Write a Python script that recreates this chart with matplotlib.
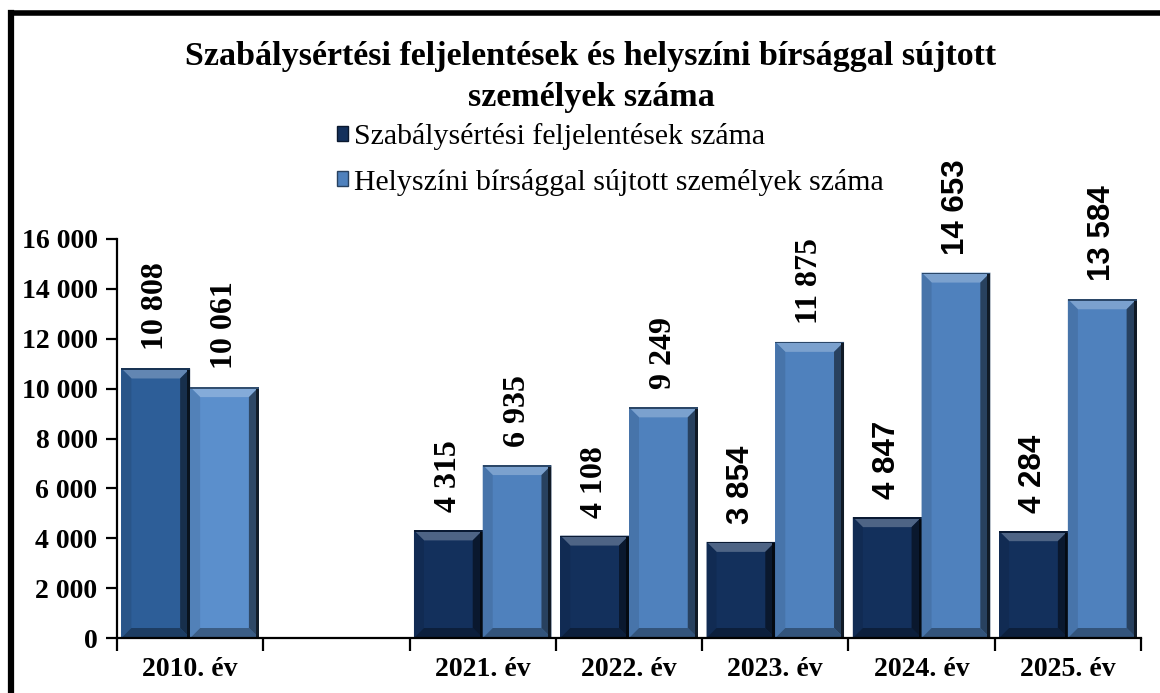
import numpy as np
import matplotlib
matplotlib.use("Agg")
import matplotlib.pyplot as plt
from matplotlib.patches import Polygon, Rectangle
from matplotlib.ticker import FuncFormatter, FixedLocator
from matplotlib.colors import to_rgb
from matplotlib.transforms import IdentityTransform
from matplotlib.lines import Line2D

# ---------------- data ----------------
categories = ["2010. év", "", "2021. év", "2022. év", "2023. év", "2024. év", "2025. év"]
feljelentes = [10808, np.nan, 4315, 4108, 3854, 4847, 4284]
birsag = [10061, np.nan, 6935, 9249, 11875, 14653, 13584]
series_names = ["Szabálysértési feljelentések száma",
                "Helyszíni bírsággal sújtott személyek száma"]
title = "Szabálysértési feljelentések és helyszíni bírsággal sújtott\nszemélyek száma"
yticks = [0, 2000, 4000, 6000, 8000, 10000, 12000, 14000, 16000]

SERIF = ["Liberation Serif", "DejaVu Serif"]
SANS = ["Liberation Sans", "DejaVu Sans"]

W, H = 1160, 693
fig = plt.figure(figsize=(W / 100, H / 100), dpi=100)
fig.patch.set_facecolor("white")
ax = fig.add_axes([117 / W, 1 - 638 / H, (1141 - 117) / W, (638 - 239) / H])

x = np.arange(len(categories))
bw = 0.47
off = 0.235

dark_main = "#13305C"
light_main = "#4F81BD"
dark_2010 = "#2D5E98"
light_2010 = "#5B8FCC"

c1 = [dark_2010] + [dark_main] * (len(categories) - 1)
c2 = [light_2010] + [light_main] * (len(categories) - 1)

v1 = np.array(feljelentes, dtype=float)
v2 = np.array(birsag, dtype=float)
bars1 = ax.bar(x - off, np.nan_to_num(v1), bw, color=c1, zorder=2)
bars2 = ax.bar(x + off, np.nan_to_num(v2), bw, color=c2, zorder=2)

ax.set_xlim(-0.5, len(categories) - 0.5)
ax.set_ylim(0, 16000)

# axis styling
for s in ["top", "right"]:
    ax.spines[s].set_visible(False)
for s in ["left", "bottom"]:
    ax.spines[s].set_linewidth(1.6)
    ax.spines[s].set_color("black")
    ax.spines[s].set_zorder(5)

ax.yaxis.set_major_locator(FixedLocator(yticks))
ax.yaxis.set_major_formatter(FuncFormatter(lambda v, p: f"{int(v):,}".replace(",", " ")))
ax.tick_params(axis="y", direction="out", length=8, width=1.6, pad=6, labelsize=20)
for lab in ax.get_yticklabels():
    lab.set_fontfamily(SERIF)
    lab.set_fontweight("bold")

ax.xaxis.set_major_locator(FixedLocator(x))
ax.set_xticklabels(categories, fontfamily=SERIF, fontweight="bold", fontsize=20)
ax.xaxis.set_minor_locator(FixedLocator(np.arange(len(categories) + 1) - 0.5))
ax.tick_params(axis="x", which="major", length=0, pad=14)
ax.tick_params(axis="x", which="minor", direction="out", length=9, width=1.6)


def mix(c, other, t):
    a = np.array(to_rgb(c))
    b = np.array(to_rgb(other))
    return tuple(a * (1 - t) + b * t)


def bevel(rect, base):
    (x0, y0), (x1, y1) = ax.transData.transform(
        [(rect.get_x(), rect.get_y()), (rect.get_x() + rect.get_width(), rect.get_y() + rect.get_height())])
    if y1 - y0 < 1:
        return
    s = 10
    b = 10
    tr = IdentityTransform()
    polys = [
        ([(x0, y1), (x1, y1), (x1 - s, y1 - b), (x0 + s, y1 - b)], mix(base, "white", 0.25)),
        ([(x0, y0), (x0, y1), (x0 + s, y1 - b), (x0 + s, y0 + b)], mix(base, "black", 0.10)),
        ([(x0, y0), (x1, y0), (x1 - s, y0 + b), (x0 + s, y0 + b)], mix(base, "black", 0.35)),
        ([(x1, y1), (x1, y0), (x1 - s, y0 + b), (x1 - s, y1 - b)], mix(base, "black", 0.5)),
    ]
    for pts, col in polys:
        ax.add_patch(Polygon(pts, closed=True, facecolor=col, edgecolor="none",
                             transform=tr, zorder=3))
    ax.add_patch(Polygon([(x1 - 3, y0), (x1, y0), (x1, y1), (x1 - 3, y1)], closed=True,
                         facecolor=mix(base, "black", 0.8), edgecolor="none", transform=tr, zorder=3))
    ax.add_patch(Polygon([(x0, y1 - 1.5), (x1, y1 - 1.5), (x1, y1), (x0, y1)], closed=True,
                         facecolor=mix(base, "black", 0.45), edgecolor="none", transform=tr, zorder=3))


for r, c in zip(bars1, c1):
    bevel(r, c)
for r, c in zip(bars2, c2):
    bevel(r, c)

# value labels
sans_labels = {3854, 4847, 14653, 4284, 13584}


def fmt(v):
    return f"{int(v):,}".replace(",", " ")


for xs, vals in [(x - off, v1), (x + off, v2)]:
    for xi, v in zip(xs, vals):
        if np.isnan(v):
            continue
        if int(v) in sans_labels:
            fam, size = SANS, 22.5
        else:
            fam, size = SERIF, 23
        ax.annotate(fmt(v), xy=(xi, v), xytext=(0, 13), textcoords="offset points",
                    rotation=90, ha="center", va="bottom", fontsize=size,
                    fontweight="bold", fontfamily=fam, zorder=6)

# title
fig.text(591 / W, 1 - 77 / H, title, ha="center", va="center", fontsize=24.5,
         fontweight="bold", fontfamily=SERIF, linespacing=1.45)

# legend
handles = [Rectangle((0, 0), 1, 1, facecolor=dark_main, edgecolor=mix(dark_main, "black", 0.5)),
           Rectangle((0, 0), 1, 1, facecolor=light_main, edgecolor=mix(light_main, "black", 0.5))]
leg = fig.legend(handles, series_names, loc="upper left",
                 bbox_to_anchor=(337 / W, 1 - 123 / H), frameon=False,
                 prop={"family": SERIF, "size": 21.5}, handlelength=0.38, handleheight=0.38,
                 handletextpad=0.18, labelspacing=0.62, borderaxespad=0, borderpad=0)

# outer frame (left and top edges visible)
fig.add_artist(Line2D([10.5 / W, 10.5 / W], [0, 1 - 12.5 / H], transform=fig.transFigure,
                      color="black", lw=4.5, solid_capstyle="projecting"))
fig.add_artist(Line2D([10.5 / W, 1.0], [1 - 12.5 / H, 1 - 12.5 / H], transform=fig.transFigure,
                      color="black", lw=4.0, solid_capstyle="projecting"))

fig.savefig("out.png", dpi=100, facecolor="white")
